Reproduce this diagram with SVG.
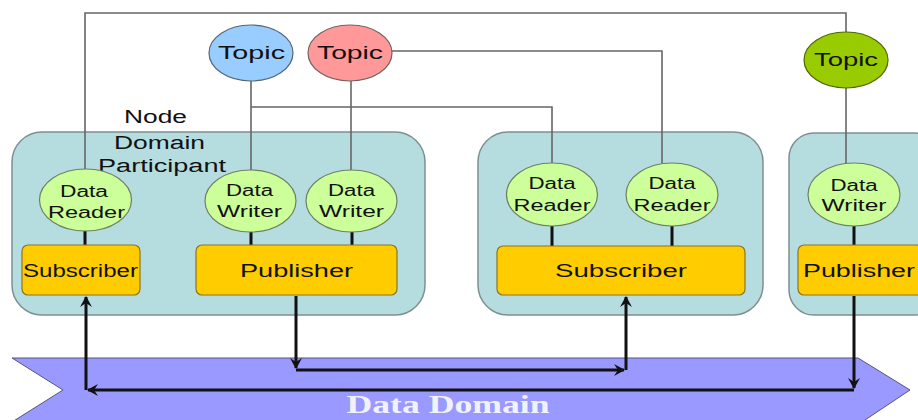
<svg xmlns="http://www.w3.org/2000/svg" width="918" height="420" viewBox="0 0 918 420">
  <defs>
    <style>
      .participant { fill: #b5dde0; stroke: #7f8f90; stroke-width: 1.5; }
      .entity { fill: #ccff99; stroke: #6f7f60; stroke-width: 1.2; }
      .box { fill: #ffcc00; stroke: #8a7420; stroke-width: 1.2; }
      .topic-blue { fill: #99ccff; stroke: #556677; stroke-width: 1.2; }
      .topic-red { fill: #ff9999; stroke: #776060; stroke-width: 1.2; }
      .topic-green { fill: #99cc00; stroke: #4f6600; stroke-width: 1.2; }
      .band { fill: #9999ff; stroke: #55557a; stroke-width: 1; }
      .lbl { font-family: "Liberation Sans", Arial, sans-serif; fill: #111; text-anchor: middle; }
      .topic-link { fill: none; stroke: #666; stroke-width: 1.6; }
      .stem { fill: none; stroke: #111; stroke-width: 3; }
      .flow { fill: none; stroke: #111; stroke-width: 3; }
      .band-lbl { font-family: "Liberation Serif", "Times New Roman", serif; font-weight: bold; font-size: 26px; fill: #f2f2ff; text-anchor: middle; }
    </style>
    <marker id="arrow" viewBox="0 0 12 12" refX="10" refY="6" markerWidth="12" markerHeight="12" markerUnits="userSpaceOnUse" orient="auto">
      <path d="M0,0 L11,6 L0,12 L4,6 z" fill="#111"/>
    </marker>
  </defs>

  <!-- Data Domain band -->
  <g id="data-domain">
    <polygon class="band" points="12,358 858,358 910,390 862,422 12,422 63,390"/>
    <text class="band-lbl" x="448" y="413" textLength="203" lengthAdjust="spacingAndGlyphs">Data Domain</text>
  </g>

  <!-- Domain participants -->
  <g id="participant-1">
    <rect class="participant" x="12" y="132" width="413" height="183" rx="30"/>
    <text class="lbl" x="155.5" y="123" font-size="18" textLength="63" lengthAdjust="spacingAndGlyphs">Node</text>
    <text class="lbl" x="159.5" y="149" font-size="18" textLength="91" lengthAdjust="spacingAndGlyphs">Domain</text>
    <text class="lbl" x="162" y="172" font-size="18" textLength="128" lengthAdjust="spacingAndGlyphs">Participant</text>
  </g>
  <g id="participant-2">
    <rect class="participant" x="478" y="132" width="285" height="183" rx="30"/>
  </g>
  <g id="participant-3">
    <rect class="participant" x="789" y="133" width="150" height="182" rx="25"/>
  </g>

  <!-- Connectors -->
  <g id="connectors">
    <!-- topic links -->
    <path class="topic-link" d="M85,170 V13 H846 V32"/>
    <path class="topic-link" d="M392,51 H662 V163"/>
    <path class="topic-link" d="M251,81 V170"/>
    <path class="topic-link" d="M251,107 H552 V163"/>
    <path class="topic-link" d="M351,81 V170"/>
    <path class="topic-link" d="M846,88 V163"/>
    <!-- reader/writer to subscriber/publisher -->
    <path class="stem" d="M85,231 V245"/>
    <path class="stem" d="M251,232 V245"/>
    <path class="stem" d="M352,232 V245"/>
    <path class="stem" d="M552,226 V246"/>
    <path class="stem" d="M672,226 V246"/>
    <path class="stem" d="M854,226 V245"/>
    <!-- publisher (right) to subscriber (left) -->
    <path class="flow" d="M854,296 V388" marker-end="url(#arrow)"/>
    <path class="flow" d="M854,390 H88" marker-end="url(#arrow)"/>
    <path class="flow" d="M86,390 V297" marker-end="url(#arrow)"/>
    <!-- publisher (left) to subscriber (middle) -->
    <path class="flow" d="M296,296 V368" marker-end="url(#arrow)"/>
    <path class="flow" d="M296,370 H624" marker-end="url(#arrow)"/>
    <path class="flow" d="M626,370 V297" marker-end="url(#arrow)"/>
  </g>

  <!-- Topics -->
  <g id="topic-blue">
    <ellipse class="topic-blue" cx="251" cy="53" rx="42" ry="28"/>
    <text class="lbl" x="251.5" y="59" font-size="19" textLength="67" lengthAdjust="spacingAndGlyphs">Topic</text>
  </g>
  <g id="topic-red">
    <ellipse class="topic-red" cx="350" cy="53" rx="42" ry="28"/>
    <text class="lbl" x="350" y="59" font-size="19" textLength="66" lengthAdjust="spacingAndGlyphs">Topic</text>
  </g>
  <g id="topic-green">
    <ellipse class="topic-green" cx="846" cy="60" rx="42" ry="28"/>
    <text class="lbl" x="846" y="66" font-size="19" textLength="64" lengthAdjust="spacingAndGlyphs">Topic</text>
  </g>

  <!-- Readers and writers -->
  <g id="reader-1">
    <ellipse class="entity" cx="85.5" cy="200" rx="46" ry="31"/>
    <text class="lbl" x="84" y="197" font-size="16" textLength="48" lengthAdjust="spacingAndGlyphs">Data</text>
    <text class="lbl" x="86.5" y="218" font-size="16" textLength="77" lengthAdjust="spacingAndGlyphs">Reader</text>
  </g>
  <g id="writer-1">
    <ellipse class="entity" cx="250.5" cy="201" rx="45.5" ry="31"/>
    <text class="lbl" x="249.5" y="196" font-size="16" textLength="47" lengthAdjust="spacingAndGlyphs">Data</text>
    <text class="lbl" x="249.5" y="217" font-size="16" textLength="65" lengthAdjust="spacingAndGlyphs">Writer</text>
  </g>
  <g id="writer-2">
    <ellipse class="entity" cx="351.5" cy="201" rx="45.5" ry="31"/>
    <text class="lbl" x="351.5" y="196" font-size="16" textLength="47" lengthAdjust="spacingAndGlyphs">Data</text>
    <text class="lbl" x="351.5" y="217" font-size="16" textLength="65" lengthAdjust="spacingAndGlyphs">Writer</text>
  </g>
  <g id="reader-2">
    <ellipse class="entity" cx="552" cy="194.5" rx="45.5" ry="31.5"/>
    <text class="lbl" x="552" y="189" font-size="16" textLength="47" lengthAdjust="spacingAndGlyphs">Data</text>
    <text class="lbl" x="552" y="211" font-size="16" textLength="77" lengthAdjust="spacingAndGlyphs">Reader</text>
  </g>
  <g id="reader-3">
    <ellipse class="entity" cx="672" cy="194.5" rx="46" ry="31.5"/>
    <text class="lbl" x="672" y="189" font-size="16" textLength="47" lengthAdjust="spacingAndGlyphs">Data</text>
    <text class="lbl" x="672" y="211" font-size="16" textLength="77" lengthAdjust="spacingAndGlyphs">Reader</text>
  </g>
  <g id="writer-3">
    <ellipse class="entity" cx="854" cy="194.5" rx="46" ry="31.5"/>
    <text class="lbl" x="854" y="191" font-size="16" textLength="47" lengthAdjust="spacingAndGlyphs">Data</text>
    <text class="lbl" x="854" y="211" font-size="16" textLength="65" lengthAdjust="spacingAndGlyphs">Writer</text>
  </g>

  <!-- Subscribers and publishers -->
  <g id="subscriber-1">
    <rect class="box" x="22" y="245" width="118" height="50" rx="6"/>
    <text class="lbl" x="80.5" y="277" font-size="18" textLength="115" lengthAdjust="spacingAndGlyphs">Subscriber</text>
  </g>
  <g id="publisher-1">
    <rect class="box" x="196" y="245" width="201" height="50" rx="6"/>
    <text class="lbl" x="296.5" y="277" font-size="18" textLength="113" lengthAdjust="spacingAndGlyphs">Publisher</text>
  </g>
  <g id="subscriber-2">
    <rect class="box" x="497" y="246" width="248" height="49" rx="6"/>
    <text class="lbl" x="621" y="277" font-size="18" textLength="132" lengthAdjust="spacingAndGlyphs">Subscriber</text>
  </g>
  <g id="publisher-2">
    <rect class="box" x="798" y="245" width="125" height="50" rx="6"/>
    <text class="lbl" x="859" y="277" font-size="18" textLength="112" lengthAdjust="spacingAndGlyphs">Publisher</text>
  </g>
</svg>
